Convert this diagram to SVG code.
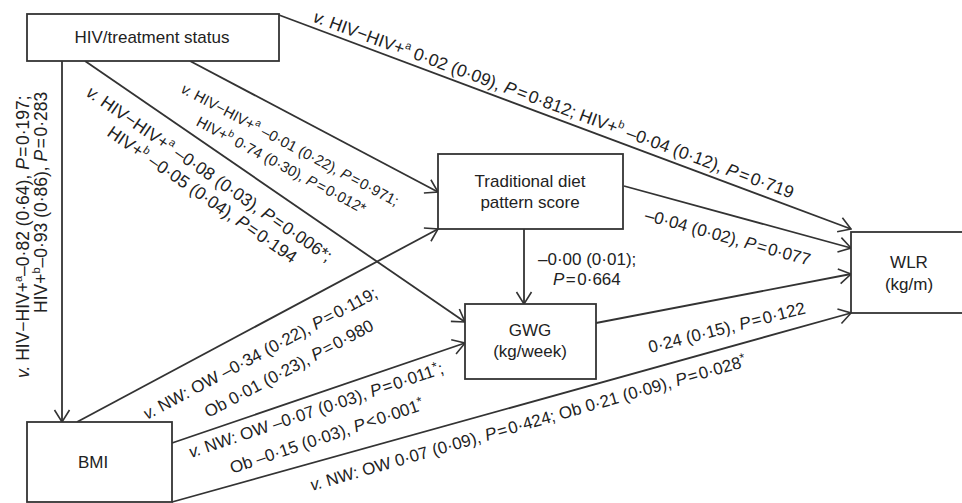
<svg xmlns="http://www.w3.org/2000/svg" width="962" height="503" viewBox="0 0 962 503">
<defs>
<marker id="arr" markerUnits="userSpaceOnUse" viewBox="0 0 14 18" refX="13" refY="9" markerWidth="14" markerHeight="18" orient="auto">
<path d="M1,1.5 L13,9 L1,16.5" fill="none" stroke="#333" stroke-width="1.6"/>
</marker>
<style>
.box{fill:#fff;stroke:#333;stroke-width:1.8}
.edge{fill:none;stroke:#333;stroke-width:1.8;marker-end:url(#arr)}
text{font-family:"Liberation Sans",Arial,sans-serif;fill:#222;font-size:17px}
.c{text-anchor:middle}
.i{font-style:italic}
.sup{font-size:11px}
.ast{font-size:13px}
.sm{font-size:14.8px}
.sm .sup{font-size:10px}
.lg{font-size:17.5px}
</style>
</defs>
<rect width="962" height="503" fill="#fff"/>
<g id="connectors">
<path class="edge" d="M62,61 L62,422"/>
<path class="edge" d="M85,61 L465,322"/>
<path class="edge" d="M190,61 L438,192"/>
<path class="edge" d="M279,15 L851,229"/>
<path class="edge" d="M77,422 L438,229"/>
<path class="edge" d="M172,443 L465,343"/>
<path class="edge" d="M172,502 L851,313"/>
<path class="edge" d="M524,229 L524,304"/>
<path class="edge" d="M624,186 L851,248"/>
<path class="edge" d="M596,323 L851,274"/>
</g>
<g id="hiv">
<rect class="box" x="27" y="14" width="252" height="47"/>
<text class="c" x="152" y="43">HIV/treatment status</text>
</g>
<g id="trad">
<rect class="box" x="438" y="154" width="185" height="75"/>
<text class="c" x="530" y="187">Traditional diet</text>
<text class="c" x="530" y="208">pattern score</text>
</g>
<g id="gwg">
<rect class="box" x="465" y="304" width="131" height="75"/>
<text class="c" x="530" y="336">GWG</text>
<text class="c" x="530" y="357">(kg/week)</text>
</g>
<g id="wlr">
<rect class="box" x="851" y="232" width="120" height="81"/>
<text class="c" x="909" y="268">WLR</text>
<text class="c" x="909" y="290">(kg/m)</text>
</g>
<g id="bmi">
<rect class="box" x="27" y="422" width="145" height="80"/>
<text class="c" x="93" y="468">BMI</text>
</g>
<g id="labels">
<g transform="translate(29,378) rotate(-90)">
<text class="lg" x="0" y="0"><tspan class="i">v.</tspan> HIV−HIV+<tspan class="sup" dy="-7">a</tspan><tspan dy="7">–0·82 (0·64), </tspan><tspan class="i">P</tspan><tspan dx="1.5">=</tspan><tspan dx="1.5">0·197;</tspan></text>
<text class="lg" x="65" y="18">HIV+<tspan class="sup" dy="-7">b</tspan><tspan dy="7">–0·93 (0·86), </tspan><tspan class="i">P</tspan><tspan dx="1.5">=</tspan><tspan dx="1.5">0·283</tspan></text>
</g>
<g transform="translate(312,21.5) rotate(20.3)">
<text class="lg" x="0" y="0"><tspan class="i">v.</tspan> HIV−HIV+<tspan class="sup" dy="-7">a</tspan><tspan dy="7"> 0·02 (0·09), </tspan><tspan class="i">P</tspan><tspan dx="2">=</tspan><tspan dx="2">0·812; HIV+</tspan><tspan class="sup" dy="-7">b</tspan><tspan dy="7"> –0·04 (0·12), </tspan><tspan class="i">P</tspan><tspan dx="2">=</tspan><tspan dx="2">0·719</tspan></text>
</g>
<g transform="translate(180,92) rotate(28)">
<text class="sm" x="0" y="0"><tspan class="i">v.</tspan> HIV−HIV+<tspan class="sup" dy="-6">a</tspan><tspan dy="6"> –0·01 (0·22), </tspan><tspan class="i">P</tspan><tspan dx="1.5">=</tspan><tspan dx="1.5">0·971;</tspan></text>
<text class="sm" x="29" y="22">HIV+<tspan class="sup" dy="-6">b</tspan><tspan dy="6"> 0·74 (0·30), </tspan><tspan class="i">P</tspan><tspan dx="1.5">=</tspan><tspan dx="1.5">0·012*</tspan></text>
</g>
<g transform="translate(85,95) rotate(34.7)">
<text class="lg" x="0" y="0"><tspan class="i">v.</tspan> HIV−HIV+<tspan class="sup" dy="-7">a</tspan><tspan dy="7"> –0·08 (0·03), </tspan><tspan class="i">P</tspan><tspan dx="1.5">=</tspan><tspan dx="1.5">0·006*;</tspan></text>
<text class="lg" x="40" y="21">HIV+<tspan class="sup" dy="-7">b</tspan><tspan dy="7"> –0·05 (0·04), </tspan><tspan class="i">P</tspan><tspan dx="1.5">=</tspan><tspan dx="1.5">0·194</tspan></text>
</g>
<g transform="translate(147,420) rotate(-28)">
<text x="0" y="0"><tspan class="i">v.</tspan> NW: OW –0·34 (0·22), <tspan class="i">P</tspan><tspan dx="1.5">=</tspan><tspan dx="1.5">0·119;</tspan></text>
<text x="55" y="27">Ob 0·01 (0·23), <tspan class="i">P</tspan><tspan dx="1.5">=</tspan><tspan dx="1.5">0·980</tspan></text>
</g>
<g transform="translate(191,458) rotate(-18.5)">
<text x="0" y="0"><tspan class="i">v.</tspan> NW: OW –0·07 (0·03), <tspan class="i">P</tspan><tspan dx="1.5">=</tspan><tspan dx="1.5">0·011</tspan><tspan class="ast" dy="-5">*</tspan><tspan dy="5">;</tspan></text>
<text x="34" y="28">Ob –0·15 (0·03), <tspan class="i">P</tspan><tspan dx="1.5">&lt;</tspan><tspan dx="1.5">0·001</tspan><tspan class="ast" dy="-5">*</tspan></text>
</g>
<g transform="translate(312,491) rotate(-16)">
<text x="0" y="0"><tspan class="i">v.</tspan> NW: OW 0·07 (0·09), <tspan class="i">P</tspan><tspan dx="1.5">=</tspan><tspan dx="1.5">0·424; Ob 0·21 (0·09), </tspan><tspan class="i">P</tspan><tspan dx="1.5">=</tspan><tspan dx="1.5">0·028</tspan><tspan class="ast" dy="-5">*</tspan></text>
</g>
<g transform="translate(650,353) rotate(-14.3)">
<text x="0" y="0">0·24 (0·15), <tspan class="i">P</tspan><tspan dx="1.5">=</tspan><tspan dx="1.5">0·122</tspan></text>
</g>
<g transform="translate(644,220) rotate(15.5)">
<text x="0" y="0">–0·04 (0·02), <tspan class="i">P</tspan><tspan dx="1.5">=</tspan><tspan dx="1.5">0·077</tspan></text>
</g>
<text x="538" y="265">–0·00 (0·01);</text>
<text x="553" y="285"><tspan class="i">P</tspan><tspan dx="1.5">=</tspan><tspan dx="1.5">0·664</tspan></text>
</g>
</svg>
